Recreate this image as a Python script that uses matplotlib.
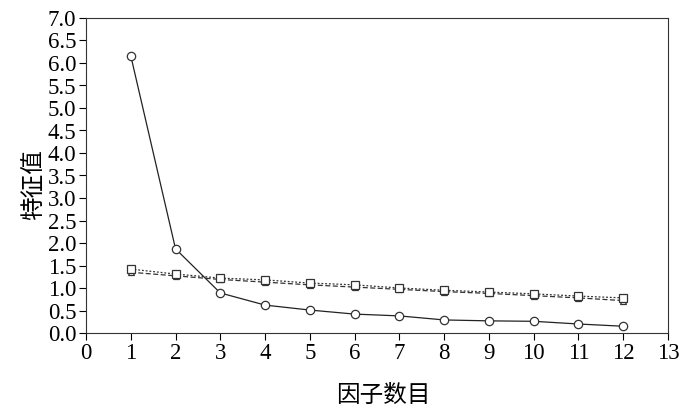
import matplotlib
matplotlib.use("Agg")
import matplotlib.pyplot as plt

factors = [1, 2, 3, 4, 5, 6, 7, 8, 9, 10, 11, 12]
actual = [6.16, 1.87, 0.89, 0.62, 0.51, 0.42, 0.38, 0.29, 0.27, 0.26, 0.20, 0.15]
sim_mean = [1.42, 1.31, 1.22, 1.18, 1.11, 1.07, 1.00, 0.95, 0.91, 0.87, 0.82, 0.78]
sim_pct = [1.35, 1.27, 1.19, 1.13, 1.07, 1.02, 0.97, 0.92, 0.88, 0.83, 0.78, 0.72]
xticks = list(range(0, 14))
yticks = [i * 0.5 for i in range(15)]

plt.rcParams['font.family'] = ['Liberation Serif', 'Noto Sans CJK SC']

fig = plt.figure(figsize=(7, 4.11), dpi=100)
ax = fig.add_axes([86/700, 1-333/411, (668-86)/700, (333-18)/411])

ax.plot(factors, sim_pct, color='#333333', lw=0.9, ls=(0, (4, 2)), marker='^', ms=5,
        mfc='white', mec='#333333', mew=0.9, zorder=2)
ax.plot(factors, sim_mean, color='#333333', lw=0.9, ls=(0, (1.5, 1.5)), marker='s', ms=6,
        mfc='white', mec='#333333', mew=0.9, zorder=3)
ax.plot(factors, actual, color='#222222', lw=0.9, ls='-', marker='o', ms=6,
        mfc='white', mec='#333333', mew=0.9, zorder=4)

ax.set_xlim(0, 13)
ax.set_ylim(0, 7)
ax.set_xticks(xticks)
ax.set_yticks(yticks)
ax.set_yticklabels([f"{v:.1f}" for v in yticks])
ax.tick_params(direction='out', length=5, width=0.8, labelsize=16.5, pad=2)
for s in ax.spines.values():
    s.set_linewidth(0.8)
    s.set_color('#333333')

fig.text(35/700, 1-185/411, '特征值', rotation=90, ha='center', va='center',
         fontsize=17, family=['Noto Sans CJK SC'])
fig.text(383/700, 1-395/411, '因子数目', ha='center', va='center',
         fontsize=17, family=['Noto Sans CJK SC'])

fig.savefig('out.png', dpi=100)
